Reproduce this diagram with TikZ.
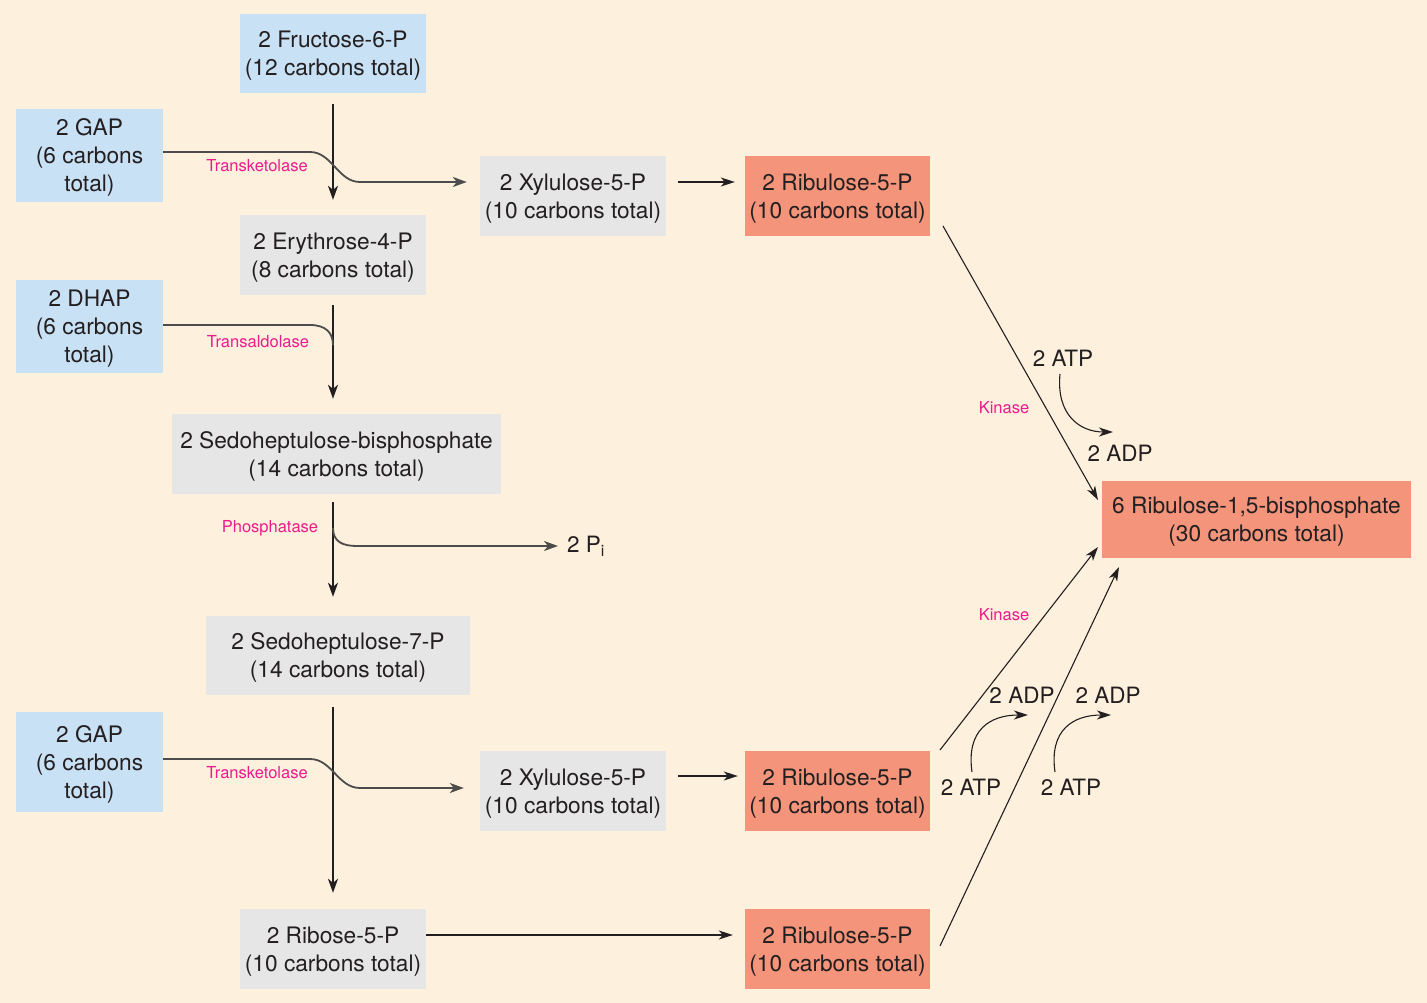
\documentclass[tikz,border=0pt]{standalone}
\usepackage{fontspec}
\setmainfont{TeX Gyre Heros}
\usetikzlibrary{arrows.meta}
\definecolor{cBg}{HTML}{FDF0DC}
\definecolor{cBlue}{HTML}{C9E1F5}
\definecolor{cGray}{HTML}{E6E6E6}
\definecolor{cSalm}{HTML}{F3947B}
\definecolor{cEnz}{HTML}{EC1C8C}
\definecolor{cInk}{HTML}{231F20}

\begin{document}
\begin{tikzpicture}[
  x=1pt, y=-1pt,
  box/.style={rectangle, inner sep=0pt, align=center, text=cInk, font=\fontsize{22.7}{28}\selectfont, text depth=-1pt},
  enz/.style={text=cEnz, inner sep=0pt, font=\fontsize{16.5}{18}\selectfont},
  lbl/.style={text=cInk, inner sep=0pt, font=\fontsize{22.5}{26}\selectfont},
  main/.style={draw=cInk, line width=2pt, -{Stealth[length=14pt, width=10pt, inset=4pt]}},
  side/.style={draw=black!70, line width=1.8pt, -{Stealth[length=14pt, width=10pt, inset=4pt]}},
  hz/.style={draw=cInk, line width=1.4pt, -{Stealth[length=14pt, width=9pt, inset=4pt]}},
  kin/.style={draw=cInk, line width=1.1pt, -{Stealth[length=14pt, width=9pt, inset=4pt]}}
]
\useasboundingbox[fill=cBg] (0,0) rectangle (1427,1003);

% left column
\node[box, fill=cBlue, minimum width=186pt, minimum height=79pt] (F6P) at (333,53.5) {2 Fructose-6-P\\(12 carbons total)};
\node[box, fill=cBlue, minimum width=147pt, minimum height=93pt] (GAP1) at (89.5,155.5) {2 GAP\\(6 carbons\\total)};
\node[box, fill=cGray, minimum width=186pt, minimum height=80pt] (E4P) at (333,255) {2 Erythrose-4-P\\(8 carbons total)};
\node[box, fill=cBlue, minimum width=147pt, minimum height=93pt] (DHAP) at (89.5,326.5) {2 DHAP\\(6 carbons\\total)};
\node[box, fill=cGray, minimum width=329pt, minimum height=80pt] (SBP) at (336.5,454) {2 Sedoheptulose-bisphosphate\\(14 carbons total)};
\node[box, fill=cGray, minimum width=264pt, minimum height=79pt] (S7P) at (338,655.5) {2 Sedoheptulose-7-P\\(14 carbons total)};
\node[box, fill=cBlue, minimum width=147pt, minimum height=100pt] (GAP2) at (89.5,762) {2 GAP\\(6 carbons\\total)};
\node[box, fill=cGray, minimum width=186pt, minimum height=80pt] (R5P) at (333,949) {2 Ribose-5-P\\(10 carbons total)};

% middle columns
\node[box, fill=cGray, minimum width=186pt, minimum height=80pt] (Xyl1) at (573,196) {2 Xylulose-5-P\\(10 carbons total)};
\node[box, fill=cGray, minimum width=186pt, minimum height=80pt] (Xyl2) at (573,791) {2 Xylulose-5-P\\(10 carbons total)};
\node[box, fill=cSalm, minimum width=185pt, minimum height=80pt] (Rib1) at (837.5,196) {2 Ribulose-5-P\\(10 carbons total)};
\node[box, fill=cSalm, minimum width=185pt, minimum height=80pt] (Rib2) at (837.5,791) {2 Ribulose-5-P\\(10 carbons total)};
\node[box, fill=cSalm, minimum width=185pt, minimum height=80pt] (Rib3) at (837.5,949) {2 Ribulose-5-P\\(10 carbons total)};
\node[box, fill=cSalm, minimum width=309pt, minimum height=77pt] (RuBP) at (1256.5,519.5) {6 Ribulose-1,5-bisphosphate\\(30 carbons total)};

\node[lbl, anchor=west] (Pi) at (567,546) {2 P\textsubscript{i}};

% enzymes
\node[enz] (tk1) at (257,166) {Transketolase};
\node[enz] (ta) at (258,342) {Transaldolase};
\node[enz] (ph) at (270,528) {Phosphatase};
\node[enz] (tk2) at (257,773) {Transketolase};
\node[enz] (kn1) at (1004,408) {Kinase};
\node[enz] (kn2) at (1004,615) {Kinase};

% cofactors
\node[lbl] (atp1) at (1063,358) {2 ATP};
\node[lbl] (adp1) at (1120,453) {2 ADP};
\node[lbl] (adp2) at (1022,695) {2 ADP};
\node[lbl] (adp3) at (1108,695) {2 ADP};
\node[lbl] (atp2) at (971,787) {2 ATP};
\node[lbl] (atp3) at (1071,787) {2 ATP};

% bend points
\coordinate (tk1a) at (310,152);
\coordinate (tk1b) at (360,182);
\coordinate (taa) at (310,325);
\coordinate (tab) at (333,345);
\coordinate (pha) at (333,528);
\coordinate (phb) at (357,546);
\coordinate (tk2a) at (310,759);
\coordinate (tk2b) at (360,788);
\coordinate (k1a) at (943,226);
\coordinate (k1b) at (1098,500);
\coordinate (k2a) at (940,750);
\coordinate (k2b) at (1098,547);
\coordinate (k3a) at (940,946);
\coordinate (k3b) at (1119,567);

% spine
\draw[main, shorten <=11pt, shorten >=15pt] (F6P) -- (E4P);
\draw[main, shorten <=10pt, shorten >=15pt] (E4P.south) -- (E4P.south |- SBP.north);
\draw[main, shorten <=8pt, shorten >=19pt] (E4P.south |- SBP.south) -- (E4P.south |- S7P.north);
\draw[main, shorten <=12pt, shorten >=16pt] (E4P.south |- S7P.south) -- (R5P);

% side reactions
\draw[side, shorten >=13pt] ([yshift=3.5pt]GAP1.east) -- (tk1a) .. controls (332,152) and (338,182) .. (tk1b) -- (Xyl1.west |- tk1b);
\draw[side, -] ([yshift=1.5pt]DHAP.east) -- (taa) .. controls (326,325) and (333,333) .. (tab);
\draw[side, shorten >=9pt] (pha) .. controls (333,542) and (343,546) .. (phb) -- (Pi.west);
\draw[side, shorten >=16pt] ([yshift=3pt]GAP2.east) -- (tk2a) .. controls (332,759) and (338,788) .. (tk2b) -- (Xyl2.west |- tk2b);

\draw[hz, shorten <=12pt, shorten >=10pt] (Xyl1.east |- tk1b) -- (Rib1.west |- tk1b);
\draw[hz, shorten <=12pt, shorten >=7pt] ([yshift=15pt]Xyl2.east) -- ([yshift=15pt]Rib2.west);
\draw[hz, shorten >=12pt] ([yshift=14pt]R5P.east) -- ([yshift=14pt]Rib3.west);

% kinase steps
\draw[kin] (k1a) -- (k1b);
\draw[kin] (k2a) -- (k2b);
\draw[kin] (k3a) -- (k3b);
\draw[kin] (1060,374) .. controls (1056,415) and (1080,432) .. (1113,432);
\draw[kin] (972,772) .. controls (966,730) and (990,715) .. (1028,715);
\draw[kin] (1055,772) .. controls (1049,730) and (1073,715) .. (1111,715);
\end{tikzpicture}
\end{document}
